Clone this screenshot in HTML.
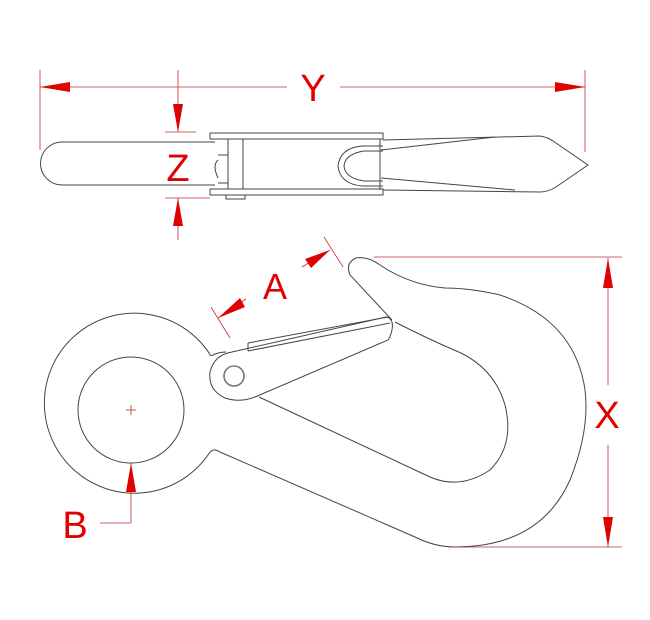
<!DOCTYPE html>
<html><head><meta charset="utf-8"><style>
html,body{margin:0;padding:0;background:#fff;}
svg{display:block;}
text{font-family:"Liberation Sans",sans-serif;fill:#e00000;}
</style></head><body>
<svg width="650" height="620" viewBox="0 0 650 620" xmlns="http://www.w3.org/2000/svg">
<g fill="none" stroke="#444" stroke-width="1">
<!-- top view shank -->
<path d="M215,142 L62,142 A21.5,21.5 0 0 0 62,185 L215,185"/>
<path d="M218,160 Q212,165 218,178"/>
<line x1="218" y1="155" x2="228" y2="155"/><line x1="218" y1="183" x2="228" y2="183"/>
<!-- collar -->
<rect x="210" y="133" width="173" height="6"/>
<rect x="210" y="189" width="173" height="6"/>
<rect x="228" y="139" width="15" height="50"/>
<rect x="226" y="195" width="19" height="4"/>
<line x1="243" y1="139" x2="243" y2="189"/>
<!-- U loop -->
<path d="M383,146 L362,146 Q340,148 338,166 Q340,184 362,186 L383,186"/>
<path d="M383,151 L364,151 Q345,154 344,166 Q345,178 364,181 L383,181"/>
<!-- blade -->
<path d="M383,140 L540,136 Q548,137 556,143 L588,165 L556,187 Q548,192 540,192 L383,190"/>
<path d="M381,150 L495,137"/><path d="M381,178 L515,190"/>
<line x1="380" y1="139" x2="380" y2="190"/>

<!-- side view eye -->
<path d="M211,356 A90,90 0 1 0 210,452"/>
<circle cx="131" cy="410" r="53"/>
<!-- hook body -->
<path d="M210,452 Q214,448 220,452 L415,537 Q435,547 455,547 Q540,547 570,480 Q590,430 585,390 Q575,320 500,295 Q470,288 445,288 Q410,285 380,265 Q368,256 356,258 Q345,263 350,275 L392,320"/>
<path d="M259,397 L430,477 Q460,490 490,470 Q515,445 505,405 Q495,370 461,353 Q430,340 395,322"/>
<!-- latch -->
<path d="M232,352 L386,317 Q394,318 392,330 Q390,338 388,340 L255,397 Q240,403 225,398 Q208,390 210,372 Q214,355 232,352"/>
<line x1="248" y1="343" x2="388" y2="317"/>
<line x1="248" y1="351" x2="390" y2="323"/>
<line x1="248" y1="343" x2="248" y2="351"/>
<circle cx="234" cy="376" r="10" stroke="#777" stroke-width="1.6"/>
<path d="M211,356 Q218,352 226,352"/>
</g>
<!-- red dimensions -->
<g stroke="#c03030" stroke-width="0.8" fill="none">
<line x1="40" y1="70" x2="40" y2="150"/><line x1="585" y1="70" x2="585" y2="152"/>
<line x1="40" y1="87" x2="287" y2="87"/><line x1="340" y1="87" x2="585" y2="87"/>
<line x1="178" y1="70" x2="178" y2="132"/><line x1="178" y1="198" x2="178" y2="240"/>
<line x1="165" y1="132" x2="196" y2="132"/><line x1="165" y1="198" x2="210" y2="198"/>
<line x1="211" y1="307" x2="230" y2="338"/><line x1="324" y1="237" x2="343" y2="267"/>
<line x1="218" y1="318" x2="246" y2="299"/><line x1="302" y1="267" x2="330" y2="250"/>
<line x1="374" y1="257" x2="622" y2="257"/><line x1="453" y1="547" x2="622" y2="547"/>
<line x1="608" y1="258" x2="608" y2="385"/><line x1="608" y1="445" x2="608" y2="547"/>
<line x1="131" y1="463" x2="131" y2="523"/><line x1="131" y1="523" x2="100" y2="523"/>
<line x1="126" y1="410" x2="136" y2="410"/><line x1="131" y1="405" x2="131" y2="415"/>
</g>
<g fill="#e00000">
<polygon points="40,87 70,82 70,92"/><polygon points="585,87 555,82 555,92"/>
<polygon points="178,132 173,104 183,104"/><polygon points="178,198 173,226 183,226"/>
<polygon points="218,318 240,298 245,307"/><polygon points="330,250 305,259 311,268"/>
<polygon points="608,258 603,288 613,288"/><polygon points="608,547 603,517 613,517"/>
<polygon points="131,463 126,492 136,492"/>
</g>
<text x="313" y="101" font-size="38" text-anchor="middle">Y</text>
<text x="178" y="181" font-size="38" text-anchor="middle">Z</text>
<text x="275" y="299" font-size="36" text-anchor="middle">A</text>
<text x="607" y="428" font-size="38" text-anchor="middle">X</text>
<text x="75" y="538" font-size="38" text-anchor="middle">B</text>
</svg>
</body></html>
